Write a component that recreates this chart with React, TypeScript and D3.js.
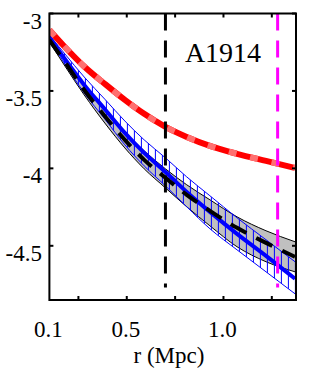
import React from "react";
import * as d3 from "d3";

// radius samples (Mpc)
const radius = [0.1, 0.18, 0.28, 0.39, 0.49, 0.59, 0.7, 0.81, 0.93, 1.07, 1.22, 1.37];

// red profile
const redLine = [-3.106, -3.216, -3.342, -3.458, -3.558, -3.648, -3.732, -3.797, -3.855, -3.906, -3.952, -3.997];

// blue profile + hatched band
const blueLine = [-3.152, -3.294, -3.461, -3.623, -3.771, -3.9, -4.023, -4.152, -4.281, -4.423, -4.565, -4.713];
const blueHigh = [-3.139, -3.261, -3.41, -3.558, -3.694, -3.816, -3.932, -4.055, -4.177, -4.319, -4.461, -4.603];
const blueLow = [-3.165, -3.326, -3.513, -3.687, -3.848, -3.984, -4.113, -4.248, -4.39, -4.526, -4.668, -4.81];

// black dashed profile + grey band
const blackLine = [-3.171, -3.313, -3.494, -3.668, -3.816, -3.945, -4.061, -4.171, -4.274, -4.384, -4.481, -4.571];
const greyHigh = [-3.158, -3.287, -3.461, -3.623, -3.765, -3.887, -4.003, -4.106, -4.203, -4.313, -4.403, -4.474];
const greyLow = [-3.184, -3.339, -3.526, -3.713, -3.868, -4.003, -4.126, -4.248, -4.371, -4.506, -4.603, -4.668];

// vertical markers
const markers = [
  { r: 0.7, color: "#000000" },
  { r: 1.28, color: "#ff00ff" },
];
const markerBottom = -4.77;

const xTicks = [0.25, 0.5, 0.75, 1.0, 1.25];
const xLabels = ["0.1", "0.5", "1.0"];
const yTicks = [-3, -3.5, -4, -4.5];
const yLabels = ["-3", "-3.5", "-4", "-4.5"];

export default function App() {
  const W = 309;
  const H = 384;
  const left = 49.4, right = 296, top = 13.5, bottom = 300;

  const x = d3.scaleLinear().domain([0.1, 1.375]).range([left, right]);
  const y = d3.scaleLinear().domain([-3, -4.85]).range([top, bottom]);

  const line = (vals: number[]) =>
    d3.line<number>()
      .x((_, i) => x(radius[i]))
      .y((d) => y(d))
      .curve(d3.curveMonotoneX)(vals) || "";

  const band = (hi: number[], lo: number[]) =>
    d3.area<number>()
      .x((_, i) => x(radius[i]))
      .y0((_, i) => y(lo[i]))
      .y1((_, i) => y(hi[i]))
      .curve(d3.curveMonotoneX)(radius) || "";

  const hatchX = d3.range(left + 1, right, 7);
  const font = "'Liberation Serif', 'Times New Roman', serif";

  return (
    <svg width={W} height={H} style={{ position: "absolute", left: 0, top: 0, background: "#fff" }}>
      <defs>
        <clipPath id="blueband">
          <path d={band(blueHigh, blueLow)} />
        </clipPath>
        <clipPath id="plot">
          <rect x={left} y={top} width={right - left} height={bottom - top} />
        </clipPath>
      </defs>

      <g clipPath="url(#plot)">
        {/* grey band */}
        <path d={band(greyHigh, greyLow)} fill="#c0c0c0" stroke="none" />
        <path d={line(greyHigh)} fill="none" stroke="#000" strokeWidth={1} />
        <path d={line(greyLow)} fill="none" stroke="#000" strokeWidth={1} />

        {/* blue hatch */}
        <g clipPath="url(#blueband)">
          {hatchX.map((hx) => (
            <line key={hx} x1={hx} x2={hx} y1={top} y2={bottom} stroke="#0000ff" strokeWidth={1} />
          ))}
        </g>
        <path d={line(blueHigh)} fill="none" stroke="#0000ff" strokeWidth={1} />
        <path d={line(blueLow)} fill="none" stroke="#0000ff" strokeWidth={1} />

        <path d={line(blueLine)} fill="none" stroke="#0000ff" strokeWidth={4} />
        <path d={line(blackLine)} fill="none" stroke="#000" strokeWidth={4} strokeDasharray="18 11" />

        {/* red */}
        <path d={line(redLine)} fill="none" stroke="#ff0000" strokeWidth={6} />
        <path d={line(redLine)} fill="none" stroke="#ff7070" strokeWidth={6} strokeDasharray="8 14" />

        {markers.map((m) => (
          <line key={m.r} x1={x(m.r)} x2={x(m.r)} y1={y(-3)} y2={y(markerBottom)}
            stroke={m.color} strokeWidth={3} strokeDasharray="17 10" />
        ))}
      </g>

      {/* frame */}
      <rect x={left} y={top} width={right - left} height={bottom - top} fill="none" stroke="#000" strokeWidth={2} />
      {xTicks.map((t) => (
        <g key={t}>
          <line x1={x(t)} x2={x(t)} y1={bottom} y2={bottom - 4} stroke="#000" strokeWidth={2} />
          <line x1={x(t)} x2={x(t)} y1={top} y2={top + 4} stroke="#000" strokeWidth={2} />
        </g>
      ))}
      {yTicks.map((t) => (
        <g key={t}>
          <line x1={left} x2={left + 4} y1={y(t)} y2={y(t)} stroke="#000" strokeWidth={2} />
          <line x1={right} x2={right - 4} y1={y(t)} y2={y(t)} stroke="#000" strokeWidth={2} />
        </g>
      ))}

      {/* labels */}
      {yTicks.map((t, i) => (
        <text key={t} x={42} y={y(t) + 15} textAnchor="end" fontFamily={font} fontSize={23}>
          {yLabels[i]}
        </text>
      ))}
      {xLabels.map((t) => (
        <text key={t} x={x(+t) - 1} y={337} textAnchor="middle" fontFamily={font} fontSize={23}>
          {t}
        </text>
      ))}
      <text x={169} y={363} textAnchor="middle" fontFamily={font} fontSize={23}>r (Mpc)</text>
      <text x={223} y={62} textAnchor="middle" fontFamily={font} fontSize={28}>A1914</text>
    </svg>
  );
}
